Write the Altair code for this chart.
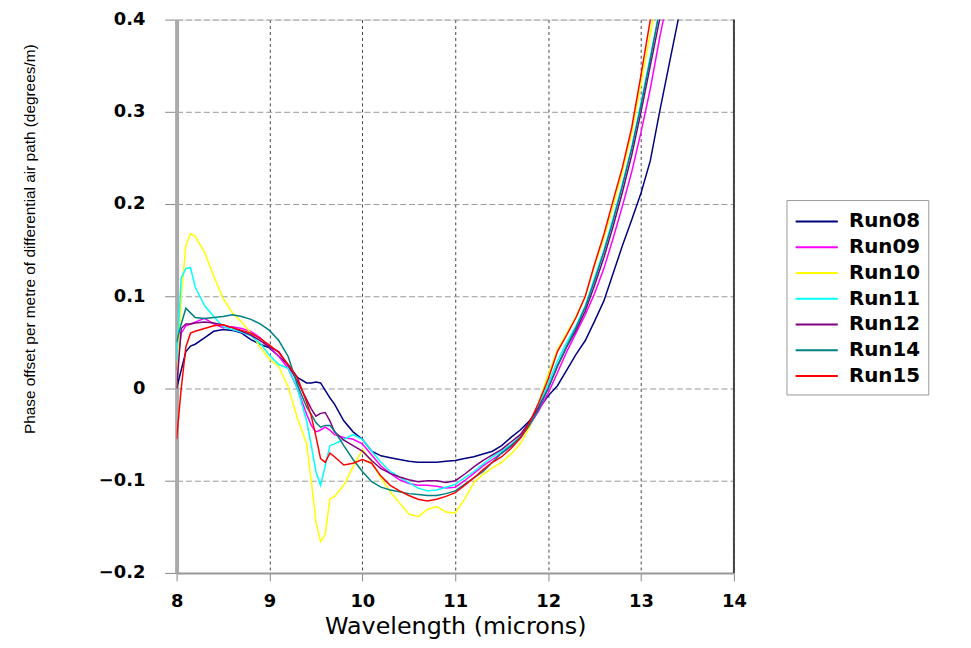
import altair as alt
import pandas as pd

WAVELENGTH = [8.0, 8.05, 8.1, 8.15, 8.2, 8.3, 8.4, 8.5, 8.6, 8.7,
              8.8, 8.9, 9.0, 9.1, 9.2, 9.3, 9.4, 9.45, 9.5, 9.55,
              9.6, 9.65, 9.7, 9.8, 9.9, 10.0, 10.1, 10.2, 10.3, 10.4,
              10.5, 10.6, 10.7, 10.8, 10.9, 11.0, 11.1, 11.2, 11.3, 11.4,
              11.5, 11.6, 11.7, 11.8, 11.9, 12.0, 12.1, 12.2, 12.3, 12.4,
              12.5, 12.6, 12.7, 12.8, 12.9, 13.0, 13.1, 13.2, 13.3, 13.4,
              13.5]

RUN08 = [0.0, 0.02, 0.04, 0.046, 0.048, 0.055, 0.062, 0.064, 0.063, 0.060,
         0.053, 0.048, 0.044, 0.035, 0.026, 0.012, 0.006, 0.006, 0.007, 0.006,
         -0.002, -0.010, -0.017, -0.035, -0.047, -0.055, -0.068, -0.073, -0.075, -0.077,
         -0.079, -0.080, -0.080, -0.080, -0.079, -0.078, -0.076, -0.074, -0.071, -0.068,
         -0.062, -0.053, -0.045, -0.035, -0.022, -0.008, 0.003, 0.020, 0.037, 0.052,
         0.073, 0.095, 0.125, 0.155, 0.183, 0.212, 0.247, 0.300, 0.350, 0.400,
         0.450]

RUN09 = [0.02, 0.06, 0.068, 0.070, 0.072, 0.076, 0.070, 0.066, 0.067, 0.065,
         0.062, 0.055, 0.045, 0.035, 0.022, 0.000, -0.028, -0.040, -0.047, -0.045,
         -0.042, -0.045, -0.050, -0.053, -0.055, -0.060, -0.072, -0.084, -0.092, -0.099,
         -0.103, -0.105, -0.105, -0.106, -0.108, -0.107, -0.100, -0.092, -0.084, -0.077,
         -0.070, -0.063, -0.054, -0.040, -0.024, -0.005, 0.017, 0.040, 0.060, 0.080,
         0.103, 0.130, 0.163, 0.198, 0.235, 0.278, 0.325, 0.380, 0.430, 0.480,
         0.530]

RUN10 = [0.0, 0.10, 0.155, 0.168, 0.165, 0.148, 0.122, 0.098, 0.082, 0.072,
         0.060, 0.045, 0.032, 0.024, 0.002, -0.032, -0.060, -0.100, -0.145, -0.166,
         -0.158, -0.120, -0.117, -0.105, -0.085, -0.066, -0.080, -0.097, -0.112, -0.124,
         -0.136, -0.139, -0.131, -0.128, -0.134, -0.135, -0.120, -0.102, -0.093, -0.086,
         -0.080, -0.071, -0.060, -0.042, -0.015, 0.015, 0.042, 0.060, 0.078, 0.100,
         0.133, 0.163, 0.198, 0.235, 0.277, 0.330, 0.385, 0.440, 0.500, 0.560,
         0.620]

RUN11 = [0.03, 0.120, 0.130, 0.131, 0.110, 0.090, 0.078, 0.067, 0.064, 0.061,
         0.057, 0.049, 0.036, 0.026, 0.022, 0.000, -0.035, -0.062, -0.090, -0.105,
         -0.084, -0.062, -0.060, -0.055, -0.050, -0.055, -0.068, -0.080, -0.090, -0.096,
         -0.102, -0.108, -0.111, -0.110, -0.107, -0.104, -0.097, -0.090, -0.082, -0.074,
         -0.068, -0.061, -0.052, -0.038, -0.018, 0.005, 0.030, 0.050, 0.068, 0.090,
         0.120, 0.150, 0.185, 0.222, 0.262, 0.310, 0.360, 0.410, 0.470, 0.530,
         0.590]

RUN12 = [0.0, 0.065, 0.070, 0.070, 0.071, 0.072, 0.071, 0.069, 0.066, 0.062,
         0.058, 0.052, 0.045, 0.040, 0.025, 0.008, -0.012, -0.022, -0.030, -0.027,
         -0.026, -0.035, -0.047, -0.056, -0.062, -0.068, -0.078, -0.087, -0.092, -0.096,
         -0.099, -0.101, -0.100, -0.100, -0.102, -0.100, -0.093, -0.085, -0.078, -0.072,
         -0.066, -0.058, -0.050, -0.036, -0.020, 0.000, 0.024, 0.045, 0.063, 0.084,
         0.112, 0.142, 0.176, 0.213, 0.253, 0.300, 0.350, 0.400, 0.460, 0.520,
         0.580]

RUN14 = [0.05, 0.070, 0.087, 0.082, 0.077, 0.076, 0.077, 0.078, 0.080, 0.078,
         0.075, 0.070, 0.063, 0.052, 0.035, 0.004, -0.020, -0.028, -0.037, -0.042,
         -0.040, -0.040, -0.046, -0.062, -0.077, -0.090, -0.101, -0.107, -0.110, -0.112,
         -0.114, -0.115, -0.116, -0.116, -0.114, -0.111, -0.104, -0.097, -0.090, -0.080,
         -0.070, -0.062, -0.053, -0.040, -0.022, 0.000, 0.025, 0.046, 0.066, 0.088,
         0.117, 0.148, 0.182, 0.220, 0.260, 0.307, 0.357, 0.410, 0.470, 0.530,
         0.590]

RUN15 = [-0.055, 0.000, 0.045, 0.060, 0.062, 0.065, 0.068, 0.069, 0.066, 0.063,
         0.060, 0.054, 0.047, 0.039, 0.026, 0.012, -0.015, -0.030, -0.052, -0.076,
         -0.080, -0.070, -0.074, -0.083, -0.081, -0.077, -0.081, -0.095, -0.105, -0.111,
         -0.116, -0.120, -0.122, -0.120, -0.117, -0.113, -0.105, -0.097, -0.088, -0.080,
         -0.074, -0.065, -0.054, -0.037, -0.015, 0.010, 0.040, 0.058, 0.077, 0.100,
         0.135, 0.167, 0.204, 0.240, 0.283, 0.340, 0.400, 0.460, 0.520, 0.580,
         0.640]

RUNS = ["Run08", "Run09", "Run10", "Run11", "Run12", "Run14", "Run15"]
COLORS = ["#000080", "#ff00ff", "#ffff00", "#00ffff", "#800080", "#008080", "#ff0000"]
SERIES = [RUN08, RUN09, RUN10, RUN11, RUN12, RUN14, RUN15]

X_TICKS = [8, 9, 10, 11, 12, 13, 14]
Y_TICKS = [-0.2, -0.1, 0.0, 0.1, 0.2, 0.3, 0.4]

rows = []
for name, vals in zip(RUNS, SERIES):
    for x, y in zip(WAVELENGTH, vals):
        rows.append({"run": name, "wl": x, "val": y})
df = pd.DataFrame(rows)

x_scale = alt.Scale(domain=[8, 14], nice=False, zero=False)
y_scale = alt.Scale(domain=[-0.2, 0.4], nice=False, zero=False)

lines = alt.Chart(df).mark_line(strokeWidth=1.5, clip=True).encode(
    x=alt.X("wl:Q", scale=x_scale,
            axis=alt.Axis(values=X_TICKS, format="d", title="Wavelength (microns)",
                          grid=True, gridDash=[3, 3], gridColor="#444", gridOpacity=1,
                          domainColor="#999", domainWidth=2,
                          tickColor="#888", tickSize=8, labelPadding=12,
                          labelFont="DejaVu Sans", labelFontSize=18, labelFontWeight="bold",
                          labelColor="#000", labelFlush=False,
                          titleFont="DejaVu Sans", titleFontSize=24, titleFontWeight="normal",
                          titleColor="#000", titlePadding=4)),
    y=alt.Y("val:Q", scale=y_scale,
            axis=alt.Axis(values=Y_TICKS, title="Phase offset per metre of differential air path (degrees/m)",
                          labelExpr="datum.value == 0 ? '0' : format(datum.value, '.1f')",
                          grid=True, gridDash=[6, 3], gridColor="#999", gridOpacity=1,
                          domainColor="#aaa", domainWidth=4,
                          tickColor="#888", tickSize=12, labelPadding=20,
                          labelFont="DejaVu Sans", labelFontSize=18, labelFontWeight="bold",
                          labelColor="#000", labelFlush=False,
                          titleFont="Liberation Sans", titleFontSize=15.5, titleFontWeight="normal",
                          titleColor="#000", titleAngle=-90, titleX=-148, titleY=221,
                          titleAlign="center", titleBaseline="middle")),
    color=alt.Color("run:N", scale=alt.Scale(domain=RUNS, range=COLORS),
                    legend=alt.Legend(title=None, orient="none", legendX=615, legendY=182,
                                      symbolType="M-1.7,0H1.7", symbolSize=625, symbolStrokeWidth=2,
                                      symbolOffset=9,
                                      labelFont="DejaVu Sans", labelFontSize=20, labelFontWeight="bold",
                                      labelColor="#000", labelOffset=19, rowPadding=2,
                                      padding=8, strokeColor="#999", fillColor="#fff")),
)

border = alt.Chart(pd.DataFrame({"wl": [14]})).mark_rule(color="#444", strokeWidth=2).encode(
    x=alt.X("wl:Q", scale=x_scale)
)

chart = alt.layer(lines, border).properties(
    width=562, height=558,
    autosize=alt.AutoSizeParams(type="none"),
    padding={"left": 170, "top": 9, "right": 231, "bottom": 73},
).configure_view(stroke="#999", strokeWidth=2).configure(background="white")

chart.save("out.html", embed_options={"renderer": "svg", "actions": False})
